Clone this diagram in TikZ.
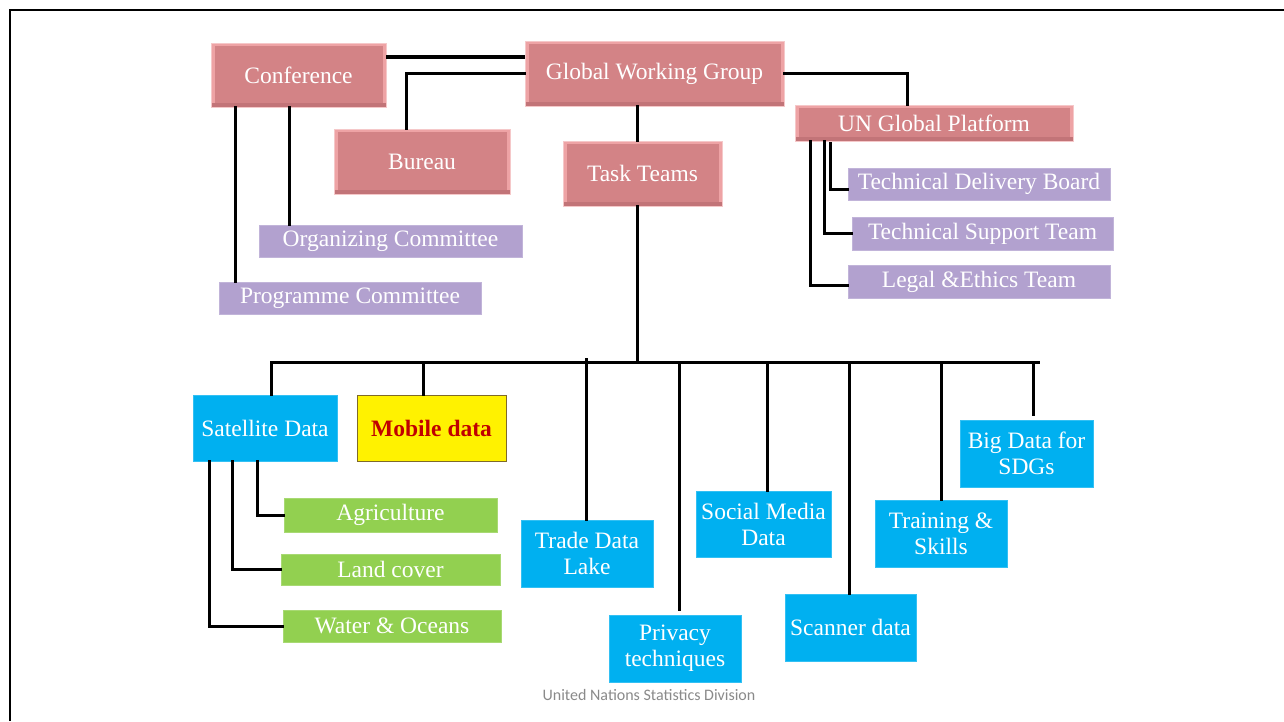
\documentclass[tikz,border=0pt]{standalone}
\usepackage{fontspec}
\setmainfont{Liberation Serif}
\newfontfamily\footfont{Carlito}
\definecolor{pinkmain}{HTML}{D38386}
\definecolor{pinkedge}{HTML}{EEA3A5}
\definecolor{pinkdark}{HTML}{C27478}
\definecolor{lavender}{HTML}{B2A1CF}
\definecolor{skyblue}{HTML}{00B0F0}
\definecolor{leafgreen}{HTML}{92D050}
\definecolor{darkred}{HTML}{C00000}
\definecolor{olive}{HTML}{7F6A2A}
\definecolor{footgray}{HTML}{8A8A8A}
\tikzset{
  base/.style={inner sep=0pt, text=white, align=center,
    font=\fontsize{23.5}{26}\selectfont},
  pinkbox/.style={base, fill=pinkedge, draw=pinkedge!60!white, line width=0.8pt,
    path picture={
      \fill[pinkdark] (path picture bounding box.south west)
        rectangle ([shift={(0pt,4pt)}]path picture bounding box.south east);
      \fill[pinkmain] ([shift={(3.5pt,-3pt)}]path picture bounding box.north west)
        rectangle ([shift={(-3.5pt,4pt)}]path picture bounding box.south east);
    }},
  purplebox/.style={base, fill=lavender, draw=lavender!80!white, line width=0.6pt},
  bluebox/.style={base, fill=skyblue, draw=skyblue!80!white, line width=0.6pt},
  greenbox/.style={base, fill=leafgreen, draw=leafgreen!80!white, line width=0.6pt},
  yellowbox/.style={base, fill=yellow, draw=olive, line width=1pt,
    text=darkred, font=\fontsize{23.5}{26}\selectfont\bfseries},
  link/.style={draw=black, line width=3pt, line cap=rect},
  sz/.style n args={2}{minimum width=#1pt, minimum height=#2pt},
}
\begin{document}
\begin{tikzpicture}[x=1pt, y=-1pt]
\useasboundingbox (0,0) rectangle (1284,721);
\fill[white] (0,0) rectangle (1284,721);
% frame
\draw[line width=2.6pt] (10,721) -- (10,10) -- (1284,10);

% top level
\node[pinkbox, sz={175}{64}] (conf) at (298.5,75) {Conference};
\node[pinkbox, sz={259}{65}] (gwg) at (654.5,73.5) {Global Working Group};
\node[pinkbox, sz={176}{65}] (bureau) at (422,161.5) {Bureau};
\node[pinkbox, sz={159}{65}] (task) at (642.5,173.5) {Task Teams};
\node[pinkbox, sz={278}{36}] (ungp) at (934,123) {UN Global Platform};

\node[purplebox, sz={262}{32}] (tdb) at (979,184) {Technical Delivery Board};
\node[purplebox, sz={261}{33}] (tst) at (982.5,233.5) {Technical Support Team};
\node[purplebox, sz={262}{33}] (legal) at (979,281.5) {Legal \&Ethics Team};
\node[purplebox, sz={263}{32}] (org) at (390.5,241) {Organizing Committee};
\node[purplebox, sz={262}{32}] (prog) at (350,298) {Programme Committee};

% task teams
\node[bluebox, sz={144}{66}] (sat) at (265,428) {Satellite Data};
\node[yellowbox, sz={149}{66}] (mobile) at (431.5,428) {Mobile data};
\node[bluebox, sz={132}{67}] (trade) at (587,553.5) {Trade Data\\Lake};
\node[bluebox, sz={132}{67}] (privacy) at (675,648.5) {Privacy\\techniques};
\node[bluebox, sz={135}{66}] (social) at (763.5,524) {Social Media\\Data};
\node[bluebox, sz={131}{67}] (scanner) at (850.5,627.5) {Scanner data};
\node[bluebox, sz={132}{67}] (training) at (941,533.5) {Training \&\\Skills};
\node[bluebox, sz={133}{67}] (bigdata) at (1026.5,453.5) {Big Data for\\SDGs};

\node[greenbox, sz={213}{34}] (agri) at (390.5,515) {Agriculture};
\node[greenbox, sz={219}{31}] (land) at (390.5,569.5) {Land cover};
\node[greenbox, sz={218}{32}] (water) at (392,626) {Water \& Oceans};

\node[font=\footfont\fontsize{16}{18}\selectfont, text=footgray, inner sep=0pt] (foot) at (649,695) {United Nations Statistics Division};

% connectors: top
\draw[link, line width=4.5pt, line cap=butt] (conf.east) ++(0,-18) coordinate (cg) -- (cg -| gwg.west);
\draw[link] (gwg.west) -| ([xshift=-16pt]bureau.north);
\draw[link] (conf.south) ++(-9.5,0) coordinate (co) -- (co |- org.north);
\draw[link] (conf.south) ++(-63.5,0) coordinate (cp) -- (cp |- prog.north);
\draw[link] (gwg.east) -| ([xshift=-27pt]ungp.north);
\draw[link] (task.north) ++(-5.5,0) coordinate (tt) -- (tt |- gwg.south);

% UN Global Platform children
\draw[link] (ungp.south) ++(-104,2) coordinate (u1) |- ([yshift=-5pt]tdb.west);
\draw[link] (ungp.south) ++(-110,0) coordinate (u2) |- (tst.west);
\draw[link] (ungp.south) ++(-124,0) coordinate (u3) |- ([yshift=-3.5pt]legal.west);

% bus
\coordinate (busL) at (271,362);
\coordinate (busR) at (1038,362);
\draw[link] (tt |- task.south) -- (tt |- busL);
\draw[link] (busL) -- (busR);
\draw[link] (busL) -- (busL |- sat.north);
\draw[link] (mobile.north) ++(-8,0) coordinate (d2) -- (d2 |- busL);
\draw[link] (trade.north) ++(-1,0) coordinate (d3) -- ([yshift=3pt]d3 |- busL);
\draw[link] (privacy.north) ++(4,-5) coordinate (d4) -- (d4 |- busL);
\draw[link] (social.north) ++(3.5,0) coordinate (d5) -- (d5 |- busL);
\draw[link] (scanner.north) ++(-1.5,0) coordinate (d6) -- (d6 |- busL);
\draw[link] (training.north) ++(0.5,0) coordinate (d7) -- (d7 |- busL);
\draw[link] (bigdata.north) ++(6.5,-5) coordinate (d8) -- (d8 |- busL);

% satellite children
\draw[link] (sat.south) ++(-8,0) coordinate (s1) |- (agri.west);
\draw[link] (sat.south) ++(-33,0) coordinate (s2) |- (land.west);
\draw[link] (sat.south) ++(-56,0) coordinate (s3) |- (water.west);
\end{tikzpicture}
\end{document}
